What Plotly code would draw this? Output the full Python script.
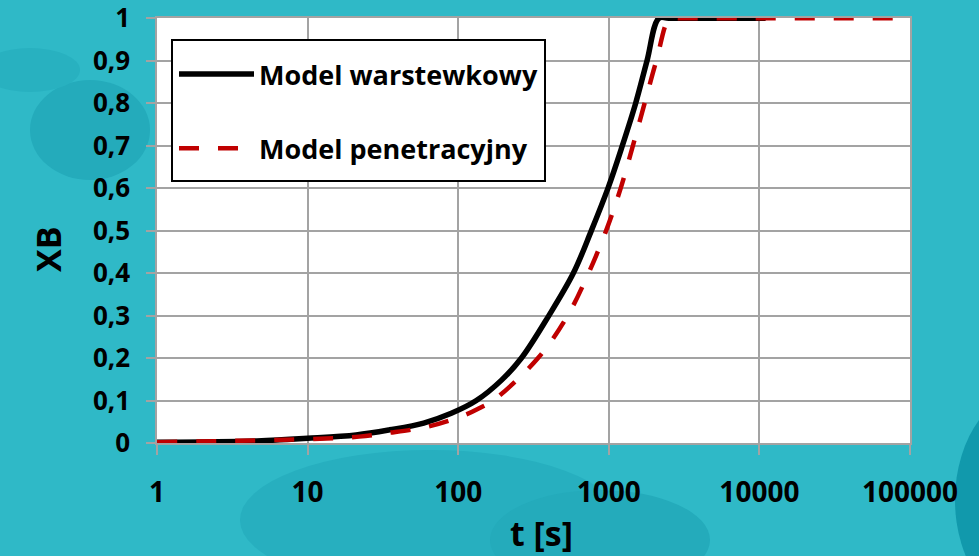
import plotly.graph_objects as go

# ---- data ----
t_warstewkowy = [1, 4.6, 10, 21, 35, 59, 90, 132, 194, 263, 400, 582, 766, 988, 1230, 1508, 1794, 2150,
                 2500, 11000]
xb_warstewkowy = [0.002, 0.005, 0.011, 0.019, 0.031, 0.047, 0.07, 0.1, 0.148, 0.2, 0.3, 0.4, 0.5, 0.6, 0.7,
                  0.8, 0.9, 1.0, 1.0, 1.0]

t_penetracyjny = [1, 10, 22, 33, 62, 111, 140, 171, 339, 533, 734, 960, 1200, 1446, 1730, 2070, 2536, 2900,
                  100000]
xb_penetracyjny = [0.002, 0.009, 0.015, 0.023, 0.038, 0.066, 0.083, 0.1, 0.2, 0.3, 0.4, 0.5, 0.6, 0.7, 0.8,
                   0.9, 1.0, 1.0, 1.0]

series_names = ["Model warstewkowy", "Model penetracyjny"]

x_tick_vals = [1, 10, 100, 1000, 10000, 100000]
x_tick_text = ["1", "10", "100", "1000", "10000", "100000"]
y_tick_vals = [0, 0.1, 0.2, 0.3, 0.4, 0.5, 0.6, 0.7, 0.8, 0.9, 1.0]
y_tick_text = ["0", "0,1", "0,2", "0,3", "0,4", "0,5", "0,6", "0,7", "0,8", "0,9", "1"]

x_title = "t [s]"
y_title = "XB"

FONT = "Open Sans"
GRID = "#a3a3a3"

fig = go.Figure()
fig.add_trace(go.Scatter(
    x=t_warstewkowy, y=xb_warstewkowy, mode="lines", name=series_names[0],
    legendgroup="a", line=dict(color="black", width=5.5, shape="spline", smoothing=1.0),
))
fig.add_trace(go.Scatter(
    x=t_penetracyjny, y=xb_penetracyjny, mode="lines", name=series_names[1],
    legendgroup="b", line=dict(color="#c00000", width=4.5, dash="20px,19px", shape="spline", smoothing=1.0),
))

# decorative background blobs (paper coordinates relative to plot area)
def px_to_paper(px, py):
    return (px - 157) / 753.0, (443 - py) / 425.0

def blob(cx, cy, rx, ry, color):
    x0, y0 = px_to_paper(cx - rx, cy + ry)
    x1, y1 = px_to_paper(cx + rx, cy - ry)
    return dict(type="circle", xref="paper", yref="paper", x0=x0, y0=y0, x1=x1, y1=y1,
                fillcolor=color, line=dict(width=0), layer="below")

lx0, ly0 = px_to_paper(172, 181)
lx1, ly1 = px_to_paper(545, 40)
shapes = [
    blob(90, 130, 60, 50, "#24abbb"),
    blob(30, 70, 50, 22, "#28b1c0"),
    blob(430, 520, 190, 70, "#27afbf"),
    blob(600, 540, 110, 50, "#24abbb"),
    blob(1040, 500, 85, 115, "#1199ac"),
    # legend frame
    dict(type="rect", xref="paper", yref="paper", x0=lx0, y0=ly0, x1=lx1, y1=ly1,
         fillcolor="white", line=dict(color="black", width=2), layer="above"),
]

annotations = [
    dict(text=y_title, xref="paper", yref="paper", x=px_to_paper(48, 249)[0], y=px_to_paper(48, 249)[1],
         xanchor="center", yanchor="middle", textangle=-90, showarrow=False,
         font=dict(family=FONT, size=34, color="black", weight="bold")),
    dict(text=x_title, xref="paper", yref="paper", x=px_to_paper(541, 533)[0], y=px_to_paper(541, 533)[1],
         xanchor="center", yanchor="middle", showarrow=False,
         font=dict(family=FONT, size=34, color="black", weight="bold")),
]

leg_x, leg_y = px_to_paper(174, 50)

fig.update_layout(
    width=979, height=556,
    margin=dict(l=157, r=69, t=18, b=113, pad=0),
    paper_bgcolor="#2fb9c7",
    plot_bgcolor="white",
    font=dict(family=FONT, color="black", size=26, weight="bold"),
    showlegend=True,
    legend=dict(
        x=leg_x, y=leg_y, xanchor="left", yanchor="top",
        bgcolor="rgba(0,0,0,0)", borderwidth=0,
        font=dict(family=FONT, size=27, color="black", weight="bold"),
        tracegroupgap=36, itemwidth=75,
    ),
    shapes=shapes,
    annotations=annotations,
)

fig.update_xaxes(
    type="log", range=[0, 5], automargin=False,
    tickvals=x_tick_vals, ticktext=x_tick_text,
    tickfont=dict(family=FONT, size=28, weight="bold"),
    showgrid=True, gridcolor=GRID, gridwidth=1.5,
    showline=True, linecolor=GRID, linewidth=1.5, mirror=True,
    ticks="outside", ticklen=10, tickcolor=GRID, tickwidth=1.5,
    ticklabelstandoff=14, ticklabeloverflow="allow",
    zeroline=False,
)
fig.update_yaxes(
    range=[0, 1.0005], automargin=False,
    tickvals=y_tick_vals, ticktext=y_tick_text,
    tickfont=dict(family=FONT, size=26, weight="bold"),
    showgrid=True, gridcolor=GRID, gridwidth=1.5,
    showline=True, linecolor=GRID, linewidth=1.5, mirror=True,
    ticks="outside", ticklen=9, tickcolor=GRID, tickwidth=1.5,
    ticklabelstandoff=11, ticklabeloverflow="allow",
    zeroline=False,
)

fig.write_html("out.html", post_script="document.body.style.margin='0';",
               config={"displayModeBar": False})
